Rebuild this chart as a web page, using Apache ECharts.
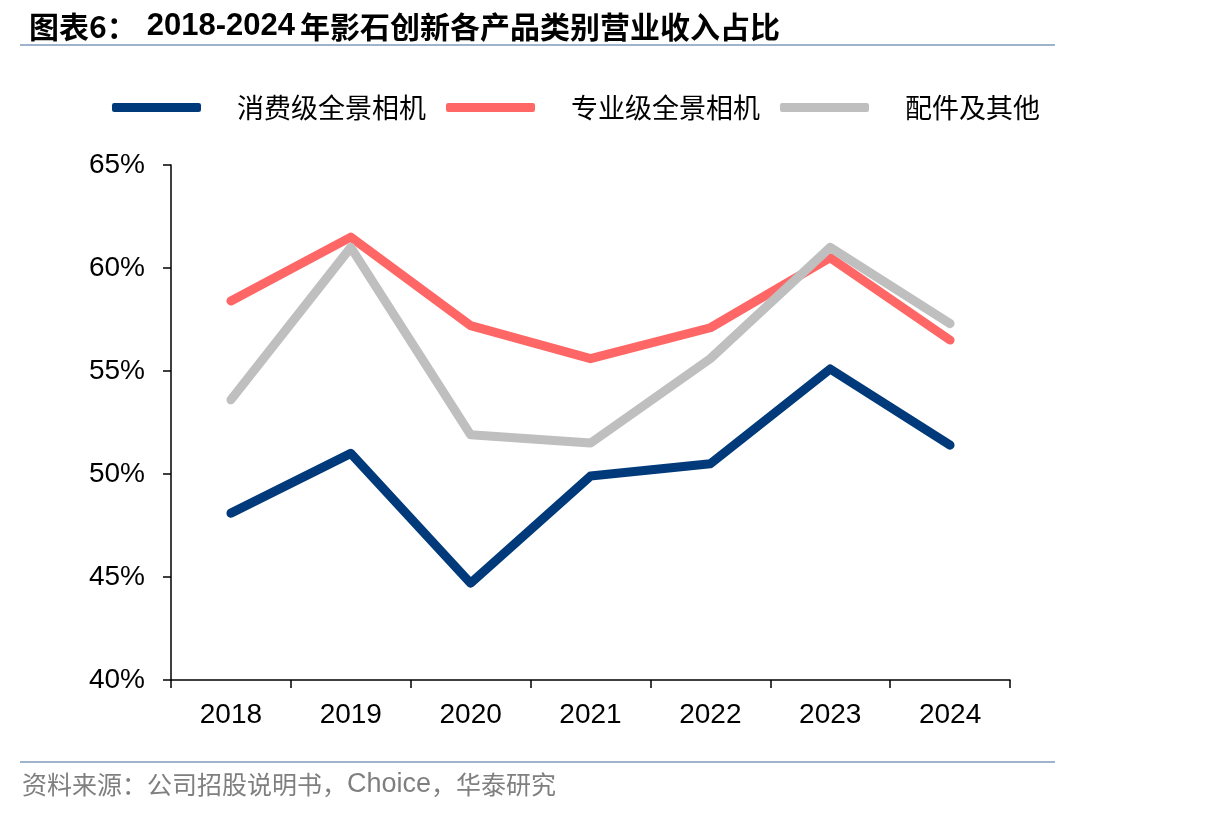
<!DOCTYPE html>
<html>
<head>
<meta charset="utf-8">
<script src="https://cdn.jsdelivr.net/npm/echarts@6/dist/echarts.min.js"></script>
<style>
    html, body { margin: 0; padding: 0; background: #fff; }
    #main { width: 1206px; height: 816px; }
</style>
</head>
<body>
<div id="main"></div>
<script>
    var years = ['2018', '2019', '2020', '2021', '2022', '2023', '2024'];
    var consumerCam = [48.1, 51.0, 44.7, 49.9, 50.5, 55.1, 51.4];   // 消费级全景相机
    var proCam = [58.4, 61.5, 57.2, 55.6, 57.1, 60.5, 56.5];        // 专业级全景相机
    var accessories = [53.6, 61.0, 51.9, 51.5, 55.6, 61.0, 57.3];   // 配件及其他
    var seriesNames = ['消费级全景相机', '专业级全景相机', '配件及其他'];
    var colors = ['#003A7A', '#FF6666', '#BFBFBF'];

    var chart = echarts.init(document.getElementById('main'));
    var lineData = [consumerCam, proCam, accessories];
    var series = [];
    for (var i = 0; i < lineData.length; i++) {
        series.push({
            name: seriesNames[i],
            type: 'line',
            data: lineData[i],
            symbol: 'none',
            lineStyle: { width: 9, color: colors[i], cap: 'round', join: 'round' },
            itemStyle: { color: colors[i] }
        });
    }

    chart.setOption({
        animation: false,
        backgroundColor: '#fff',
        title: {
            text: '{cn|图表6：}  {num|2018-2024} {cn|年影石创新各产品类别营业收入占比}',
            left: 24,
            top: 6,
            textStyle: {
                rich: {
                    cn: {
                        fontFamily: '"Noto Sans CJK SC"',
                        fontSize: 30,
                        fontWeight: 'bold',
                        color: '#000'
                    },
                    num: {
                        fontFamily: '"Liberation Sans", Arial',
                        fontSize: 31,
                        fontWeight: 'bold',
                        color: '#000'
                    }
                }
            }
        },
        legend: {
            data: seriesNames,
            left: 107,
            top: 89,
            icon: 'roundRect',
            itemWidth: 89,
            itemHeight: 9,
            itemGap: 20,
            textStyle: {
                fontFamily: '"Noto Sans CJK SC"',
                fontSize: 27,
                color: '#000',
                padding: [0, 0, 0, 31]
            }
        },
        grid: {
            left: 171,
            right: 196,
            top: 165,
            bottom: 136,
            containLabel: false
        },
        xAxis: {
            type: 'category',
            data: years,
            boundaryGap: true,
            axisLine: { lineStyle: { color: '#000', width: 1.5 } },
            axisTick: { show: true, length: 8, lineStyle: { color: '#000', width: 1.5 } },
            axisLabel: {
                margin: 21,
                fontFamily: '"Liberation Sans", Arial',
                fontSize: 28,
                color: '#000'
            },
            splitLine: { show: false }
        },
        yAxis: {
            type: 'value',
            min: 40,
            max: 65,
            interval: 5,
            axisLine: { show: true, lineStyle: { color: '#000', width: 1.5 } },
            axisTick: { show: true, length: 8, lineStyle: { color: '#000', width: 1.5 } },
            axisLabel: {
                margin: 26,
                fontFamily: '"Liberation Sans", Arial',
                fontSize: 28,
                color: '#000',
                formatter: '{value}%'
            },
            splitLine: { show: false }
        },
        graphic: [
            {
                type: 'rect',
                shape: { x: 20, y: 44, width: 1035, height: 2 },
                style: { fill: '#9FB3CC' }
            },
            {
                type: 'rect',
                shape: { x: 20, y: 761, width: 1035, height: 2 },
                style: { fill: '#9FB3CC' }
            },
            {
                type: 'text',
                left: 22,
                top: 771,
                style: {
                    text: '{cn|资料来源：公司招股说明书，}{en|Choice}{cn|，华泰研究}',
                    rich: {
                        cn: {
                            fontFamily: '"Noto Sans CJK SC"',
                            fontSize: 25,
                            fill: '#7F7F7F',
                            color: '#7F7F7F'
                        },
                        en: {
                            fontFamily: '"Liberation Sans", Arial',
                            fontSize: 27,
                            fill: '#7F7F7F',
                            color: '#7F7F7F'
                        }
                    }
                }
            }
        ],
        series: series
    });
</script>
</body>
</html>
